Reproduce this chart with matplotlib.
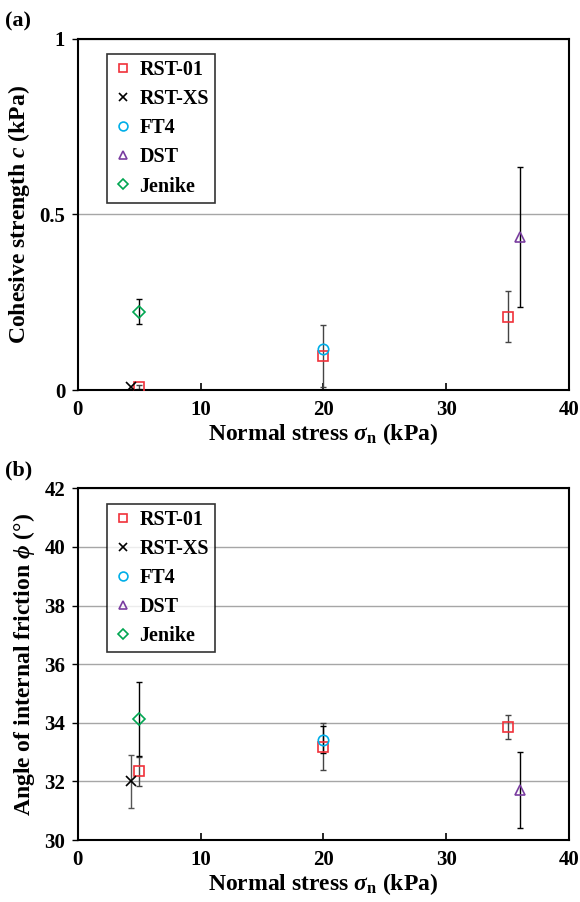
import numpy as np
import matplotlib
matplotlib.use("Agg")
import matplotlib.pyplot as plt

plt.rcParams['font.family'] = ['Liberation Serif', 'DejaVu Serif']
plt.rcParams['font.weight'] = 'bold'
plt.rcParams['axes.labelweight'] = 'bold'
plt.rcParams['mathtext.fontset'] = 'custom'
plt.rcParams['mathtext.rm'] = 'Liberation Serif:bold'
plt.rcParams['mathtext.it'] = 'Liberation Serif:italic:bold'
plt.rcParams['mathtext.bf'] = 'Liberation Serif:bold'

# (a) cohesive strength, kPa
rst01_x = [5, 20, 35]
rst01_c = [0.009, 0.097, 0.209]
rst01_c_err = [0.005, 0.087, 0.072]
rstxs_x = [4.3]
rstxs_c = [0.01]
ft4_x = [20]
ft4_c = [0.116]
dst_x = [36]
dst_c = [0.436]
dst_c_err = [0.2]
jenike_x = [5]
jenike_c = [0.223]
jenike_c_err = [0.035]

# (b) angle of internal friction, deg
rst01_phi = [32.34, 33.18, 33.86]
rst01_phi_err = [0.49, 0.8, 0.4]
rstxs_phi = [32.0]
rstxs_phi_err = [0.9]
ft4_phi = [33.43]
ft4_phi_err = [0.47]
dst_phi = [31.7]
dst_phi_err = [1.3]
jenike_phi = [34.13]
jenike_phi_err = [1.27]

red = '#f0313a'
cyan = '#00aee8'
purple = '#7a3da0'
green = '#00a651'

fig = plt.figure(figsize=(5.8, 9.02), dpi=100)
ax1 = fig.add_axes([0.134, 0.5676, 0.847, 0.3894])
ax2 = fig.add_axes([0.134, 0.0687, 0.847, 0.3899])

ms = 7.5


def draw(ax, ys):
    (r_y, r_e), (x_y, x_e), (f_y, f_e), (d_y, d_e), (j_y, j_e) = ys
    ax.errorbar(rst01_x, r_y, yerr=r_e, fmt='none', ecolor='#444444', elinewidth=1, capsize=2.5, zorder=2)
    if x_e is not None:
        ax.errorbar(rstxs_x, x_y, yerr=x_e, fmt='none', ecolor='#555555', elinewidth=1, capsize=2.5, zorder=2)
    if f_e is not None:
        ax.errorbar(ft4_x, f_y, yerr=f_e, fmt='none', ecolor='black', elinewidth=1, capsize=2.5, zorder=2)
    ax.errorbar(dst_x, d_y, yerr=d_e, fmt='none', ecolor='black', elinewidth=1, capsize=2.5, zorder=2)
    ax.errorbar(jenike_x, j_y, yerr=j_e, fmt='none', ecolor='black', elinewidth=1, capsize=2.5, zorder=2)
    ax.plot(rst01_x, r_y, 's', ms=ms, mfc='none', mec=red, mew=1.2, label='RST-01', zorder=3)
    ax.plot(rstxs_x, x_y, 'x', ms=7, color='black', mew=1.2, label='RST-XS', zorder=3)
    ax.plot(ft4_x, f_y, 'o', ms=ms, mfc='none', mec=cyan, mew=1.2, label='FT4', zorder=3)
    ax.plot(dst_x, d_y, '^', ms=ms, mfc='none', mec=purple, mew=1.2, label='DST', zorder=3)
    ax.plot(jenike_x, j_y, 'D', ms=6, mfc='none', mec=green, mew=1.2, label='Jenike', zorder=3)

    ax.set_xlim(0, 40)
    ax.set_xticks([0, 10, 20, 30, 40])
    ax.tick_params(axis='x', direction='in', length=5, width=1.2, labelsize=15, pad=7)
    ax.tick_params(axis='y', direction='out', length=4, width=1, labelsize=15, pad=5)
    ax.grid(axis='y', color='#a6a6a6', lw=1)
    ax.set_axisbelow(True)
    for s in ax.spines.values():
        s.set_linewidth(1.5)
        s.set_color('black')
    ax.set_xlabel(r'Normal stress $\sigma_\mathrm{n}$ (kPa)', fontsize=17, labelpad=1)
    leg = ax.legend(loc='upper left', bbox_to_anchor=(0.06, 0.956), fontsize=14.5, frameon=True,
                    fancybox=False, edgecolor='black', handlelength=1.0, handletextpad=0.3,
                    labelspacing=0.45, borderpad=0.3, borderaxespad=0, markerscale=0.85)
    leg.get_frame().set_linewidth(1.2)


draw(ax1, [(rst01_c, rst01_c_err), (rstxs_c, None), (ft4_c, None), (dst_c, dst_c_err), (jenike_c, jenike_c_err)])
ax1.set_ylim(0, 1)
ax1.set_yticks([0, 0.5, 1])
ax1.set_yticklabels(['0', '0.5', '1'])
ax1.set_ylabel(r'Cohesive strength $c$ (kPa)', fontsize=17, labelpad=5)

draw(ax2, [(rst01_phi, rst01_phi_err), (rstxs_phi, rstxs_phi_err), (ft4_phi, ft4_phi_err),
           (dst_phi, dst_phi_err), (jenike_phi, jenike_phi_err)])
ax2.set_ylim(30, 42)
ax2.set_yticks(np.arange(30, 43, 2))
ax2.set_ylabel(r'Angle of internal friction $\phi$ (°)', fontsize=17, labelpad=5)

fig.text(0.008, 0.987, '(a)', fontsize=16, va='top', ha='left')
fig.text(0.008, 0.49, '(b)', fontsize=16, va='top', ha='left')

fig.savefig('out.png', dpi=100)
